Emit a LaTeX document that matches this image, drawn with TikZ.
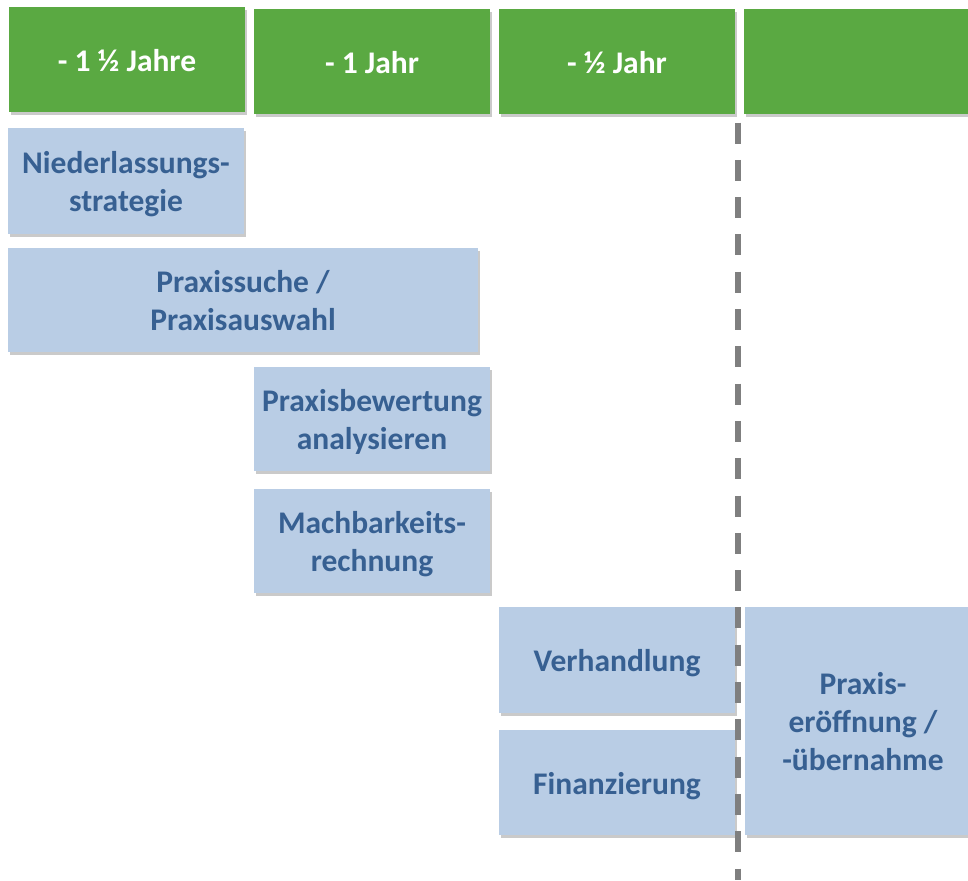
\documentclass[tikz,border=0pt]{standalone}
\usepackage{fontspec}
\setmainfont{Carlito}
\usetikzlibrary{shadows}
\definecolor{hgreen}{HTML}{5AA942}
\definecolor{sblue}{HTML}{B9CDE5}
\definecolor{tblue}{HTML}{376092}
\definecolor{dgray}{HTML}{7F7F7F}
\newcommand\lbl[1]{\raisebox{-4pt}[\height][\depth]{\begin{tabular}{@{}c@{}}#1\end{tabular}}}
\tikzset{
  base/.style={rectangle, inner sep=0pt, font=\fontsize{31.5}{38}\selectfont\bfseries,
    drop shadow={shadow xshift=2pt, shadow yshift=-3pt, opacity=0.35, fill=black!60}},
  head/.style={base, fill=hgreen, text=white, minimum width=236pt, minimum height=105pt},
  task/.style={base, fill=sblue, text=tblue},
}
\begin{document}
\begin{tikzpicture}[x=1pt,y=-1pt]
\useasboundingbox (0,0) rectangle (968,880);
\node[head] (g1) at (127,59.5) {\lbl{- 1 ½ Jahre}};
\node[head] (g2) at (372,61.5) {\lbl{- 1 Jahr}};
\node[head] (g3) at (617,61.5) {\lbl{- ½ Jahr}};
\node[head] (g4) at (862,61.5) {};
\node[task, minimum width=236pt, minimum height=106pt] (n1) at (126,181) {\lbl{Niederlassungs-\\strategie}};
\node[task, minimum width=470pt, minimum height=104pt] (n2) at (243,300) {\lbl{Praxissuche /\\Praxisauswahl}};
\node[task, minimum width=236pt, minimum height=104pt] (n3) at (372,419) {\lbl{Praxisbewertung\\analysieren}};
\node[task, minimum width=236pt, minimum height=104pt] (n4) at (372,541) {\lbl{Machbarkeits-\\rechnung}};
\node[task, minimum width=236pt, minimum height=106pt] (n5) at (617,660) {\lbl{Verhandlung}};
\node[task, minimum width=236pt, minimum height=105pt] (n6) at (617,782.5) {\lbl{Finanzierung}};
\node[task, minimum width=236pt, minimum height=228pt] (n7) at (863,721) {\lbl{Praxis-\\eröffnung /\\-übernahme}};
\coordinate (lt) at (738,122.5);
\coordinate (lb) at (738,880);
\draw[dgray, line width=5.3pt, dash pattern=on 21pt off 16.3pt] (lt) -- (lb);
\end{tikzpicture}
\end{document}
